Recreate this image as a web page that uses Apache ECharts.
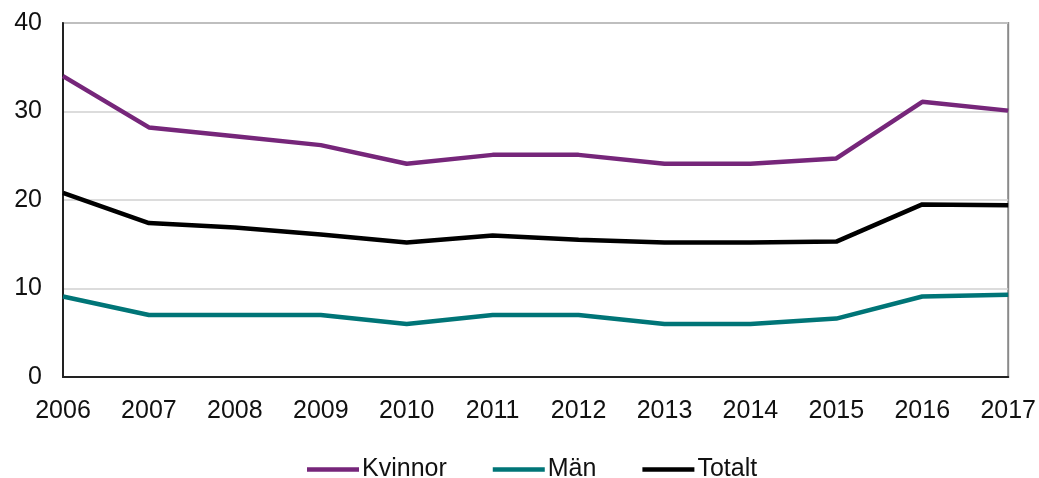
<!DOCTYPE html>
<html>
<head>
<meta charset="utf-8">
<script src="https://cdn.jsdelivr.net/npm/echarts@6/dist/echarts.min.js"></script>
<style>html,body{margin:0;padding:0;background:#fff}#c{width:1039px;height:478px}</style>
</head>
<body>
<div id="c"></div>
<script>
const years = ['2006','2007','2008','2009','2010','2011','2012','2013','2014','2015','2016','2017'];
const kvinnor = [34.0, 28.2, 27.2, 26.2, 24.1, 25.1, 25.1, 24.1, 24.1, 24.7, 31.1, 30.1];
const man = [9.1, 7.0, 7.0, 7.0, 6.0, 7.0, 7.0, 6.0, 6.0, 6.6, 9.1, 9.3];
const totalt = [20.8, 17.4, 16.9, 16.1, 15.2, 16.0, 15.5, 15.2, 15.2, 15.3, 19.5, 19.4];
const yTicks = [0, 10, 20, 30, 40];

const font = '"Liberation Sans", Arial, sans-serif';
const chart = echarts.init(document.getElementById('c'), null, {renderer: 'canvas'});
const mk = (name, data, color) => ({
  name, type: 'line', data, symbol: 'none', smooth: false,
  lineStyle: {color, width: 4.5}, itemStyle: {color}, z: 3
});
chart.setOption({
  animation: false,
  backgroundColor: '#fff',
  grid: {left: 63, right: 30, top: 23, bottom: 101, show: true, borderColor: '#8a8a8a', borderWidth: 2, backgroundColor: 'transparent'},
  legend: {
    left: 302, top: 452, itemWidth: 52, itemHeight: 4.5, itemGap: 46, icon: 'rect',
    textStyle: {fontFamily: font, fontSize: 25, color: '#111', padding: [0, 0, 0, -2]},
    data: ['Kvinnor', 'Män', 'Totalt']
  },
  xAxis: {
    type: 'category', data: years, boundaryGap: false,
    axisLine: {show: true, lineStyle: {color: '#222', width: 2}},
    axisTick: {show: false},
    axisLabel: {fontFamily: font, fontSize: 25, color: '#111', margin: 22, interval: 0},
    splitLine: {show: false}
  },
  yAxis: {
    type: 'value', min: yTicks[0], max: yTicks[yTicks.length - 1], interval: 10,
    axisLine: {show: true, lineStyle: {color: '#222', width: 2}},
    axisTick: {show: false},
    axisLabel: {fontFamily: font, fontSize: 25, color: '#111', margin: 21},
    splitLine: {show: true, lineStyle: {color: '#d0d0d0', width: 1.5}}
  },
  series: [mk('Kvinnor', kvinnor, '#76267a'), mk('Män', man, '#007577'), mk('Totalt', totalt, '#000000')]
});
</script>
</body>
</html>
